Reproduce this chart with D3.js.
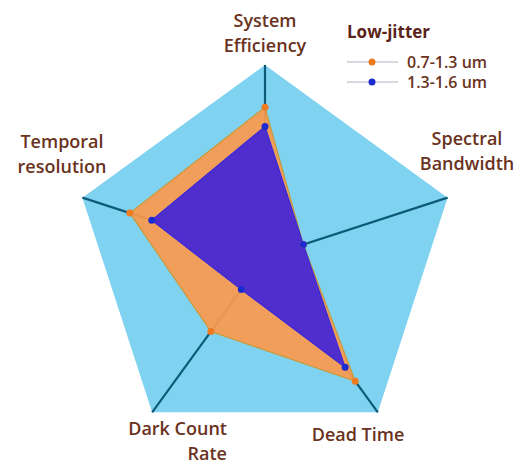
<!DOCTYPE html>
<html><head><meta charset="utf-8">
<script src="https://cdn.jsdelivr.net/npm/d3@7"></script>
<style>body{margin:0;background:#fff}svg{display:block}text{font-family:"Open Sans",Roboto,sans-serif}</style>
</head><body><svg id="c" width="523" height="466"></svg>
<script>
const axes = ["System Efficiency","Spectral Bandwidth","Dead Time","Dark Count Rate","Temporal resolution"];
const seriesNames = ["0.7-1.3 um","1.3-1.6 um"];
const orangeVals = [0.78, 0.21, 0.80, 0.48, 0.74];
const purpleVals = [0.68, 0.21, 0.71, 0.21, 0.62];
const legendTitle = "Low-jitter";

const svg = d3.select("#c");
const cx = 265, cy = 257, R = 192;
const r = d3.scaleLinear().domain([0,1]).range([0,R]);
const ang = d3.scaleLinear().domain([0, axes.length]).range([0, 2*Math.PI]);
const pt = (i, v) => [cx + r(v)*Math.sin(ang(i)), cy - r(v)*Math.cos(ang(i))];
const line = d3.line().curve(d3.curveLinearClosed);

svg.append("path").attr("d", line(axes.map((a,i)=>pt(i,1)))).attr("fill","#80d3f0");
axes.forEach((a,i)=>{
  const [x,y] = pt(i,1);
  svg.append("line").attr("x1",cx).attr("y1",cy).attr("x2",x).attr("y2",y)
    .attr("stroke","#0d5a78").attr("stroke-width",2.2);
});
const series = [
  {vals: orangeVals, fill:"#f99a4e", op:0.93, stroke:"#c99a3a", dot:"#f07a20"},
  {vals: purpleVals, fill:"#4a2ad2", op:0.97, stroke:"#3a2ad8", dot:"#1c2bd0"}
];
series.forEach(s=>{
  svg.append("path").attr("d", line(s.vals.map((v,i)=>pt(i,v))))
    .attr("fill", s.fill).attr("fill-opacity",s.op)
    .attr("stroke", s.stroke).attr("stroke-width",1.2);
});
series.forEach(s=>{
  s.vals.forEach((v,i)=>{
    const [x,y]=pt(i,v);
    svg.append("circle").attr("cx",x).attr("cy",y).attr("r",3.5).attr("fill",s.dot);
  });
});

const txt = "#6a3220";
const labels = [
  {lines:["System","Efficiency"], x:265, y:27, anchor:"middle"},
  {lines:["Spectral","Bandwidth"], x:467, y:145, anchor:"middle"},
  {lines:["Dead Time"], x:358, y:441, anchor:"middle"},
  {lines:["Dark Count","Rate"], x:227, y:435, anchor:"end"},
  {lines:["Temporal","resolution"], x:62, y:148, anchor:"middle"}
];
labels.forEach(l=>{
  const t = svg.append("text").attr("x",l.x).attr("y",l.y).attr("text-anchor",l.anchor)
    .attr("font-size",18).attr("font-weight",600).attr("fill",txt);
  l.lines.forEach((s,k)=>t.append("tspan").attr("x",l.x).attr("dy",k?25:0).text(s));
});

svg.append("text").attr("x",347).attr("y",38).attr("font-size",17).attr("font-weight","bold")
  .attr("fill","#5a2418").text(legendTitle);
series.forEach((s,k)=>{
  const y = 62 + k*20;
  svg.append("line").attr("x1",347).attr("x2",398).attr("y1",y).attr("y2",y)
    .attr("stroke","#c8ccd6").attr("stroke-width",1.5);
  svg.append("circle").attr("cx",372).attr("cy",y).attr("r",3.5).attr("fill",s.dot);
  svg.append("text").attr("x",407).attr("y",y+5.5).attr("font-size",16).attr("font-weight",600).attr("fill",txt).text(seriesNames[k]);
});
</script></body></html>
